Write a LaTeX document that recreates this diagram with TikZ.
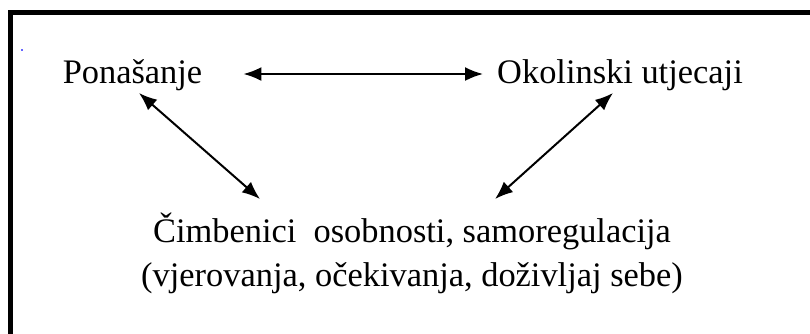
\documentclass[tikz,border=0pt]{standalone}
\usepackage{fontspec}
\setmainfont{Liberation Serif}
\usetikzlibrary{arrows.meta, positioning}
\tikzset{
  word/.style={font=\fontsize{34.4}{44}\selectfont, inner sep=0pt},
  twoway/.style={line width=2pt, {Latex[length=18pt,width=14pt]}-{Latex[length=18pt,width=14pt]}}
}
\begin{document}
\begin{tikzpicture}[x=1pt,y=-1pt]
\clip (0,0) rectangle (810,333);
%frame
\draw[line width=5.5pt] (10.5,360) |- (840,12.5);
\fill[blue!60] (20.5,49) rectangle (22.5,51);
%factors
\node[word, anchor=base] (beh) at (132.5,83) {Ponašanje};
\node[word, anchor=base] (env) at (620,83) {Okolinski utjecaji};
\node[word, align=center, anchor=north] (pers) at (412,213) {Čimbenici\ \ osobnosti, samoregulacija\\(vjerovanja, očekivanja, doživljaj sebe)};
%arrows between
\draw[twoway] ([xshift=41pt,yshift=9pt]beh.base east) -- ([xshift=-14pt,yshift=9pt]env.base west);
\draw[twoway] ([xshift=6.5pt,yshift=-10pt]beh.base) -- ([xshift=-152pt,yshift=14pt]pers.north);
\draw[twoway] ([xshift=-7pt,yshift=-10pt]env.base) -- ([xshift=83pt,yshift=14pt]pers.north);
\end{tikzpicture}
\end{document}
